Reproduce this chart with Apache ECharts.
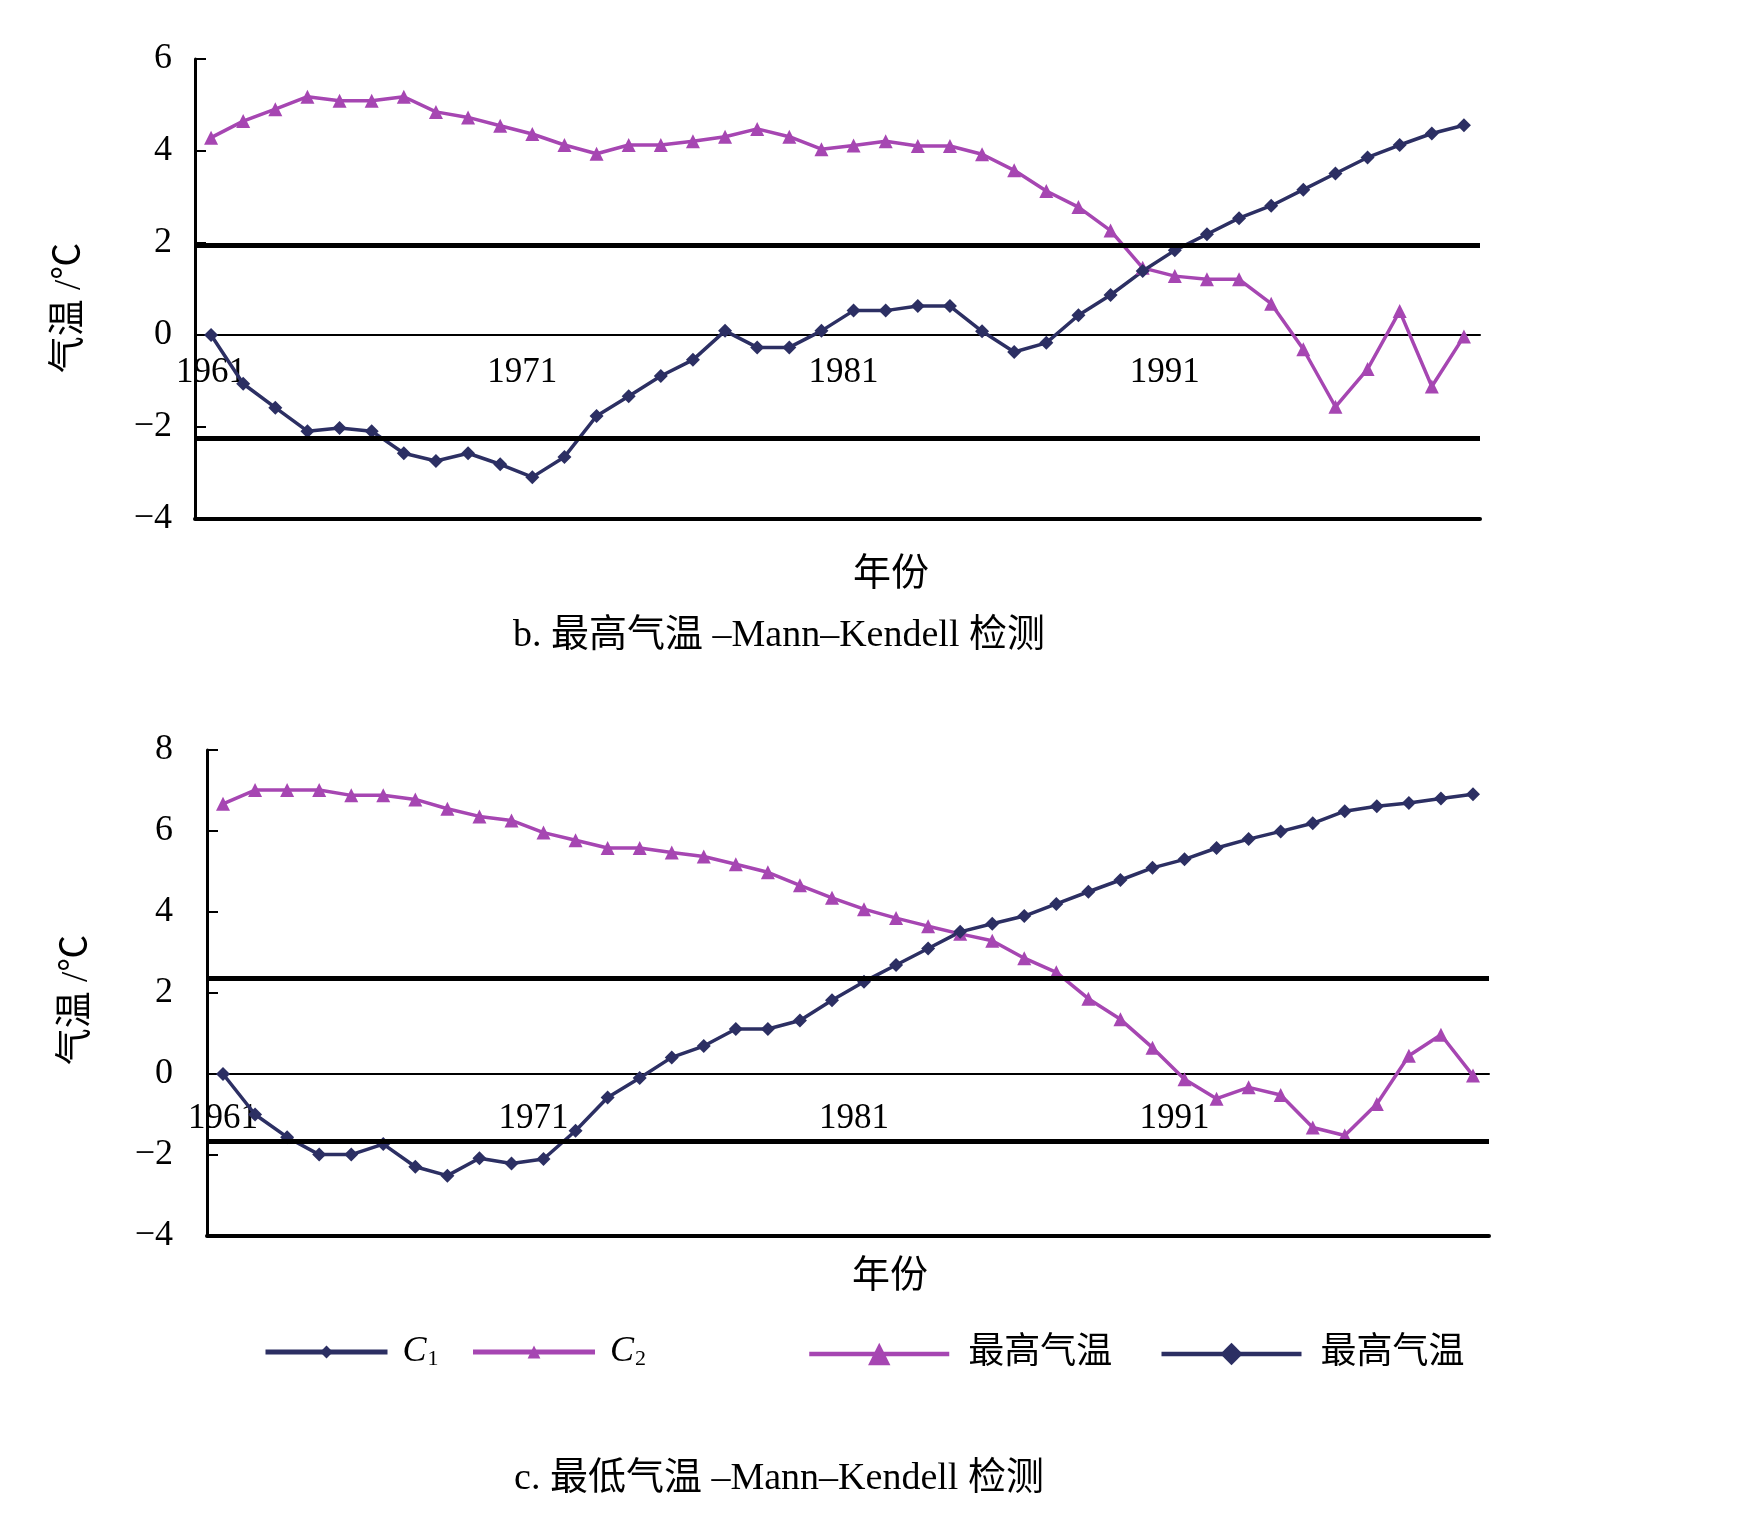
<!DOCTYPE html>
<html>
<head>
<meta charset="utf-8">
<title>Mann-Kendell 检测</title>
<script src="https://cdn.jsdelivr.net/npm/echarts@6/dist/echarts.min.js"></script>
<style>
  html, body { margin: 0; padding: 0; background: #fff; }
  #chart { width: 1752px; height: 1527px; }
</style>
</head>
<body>
<div id="chart"></div>
<script>
// 年份
const years = ['1961', '1962', '1963', '1964', '1965', '1966', '1967', '1968', '1969', '1970',
  '1971', '1972', '1973', '1974', '1975', '1976', '1977', '1978', '1979', '1980',
  '1981', '1982', '1983', '1984', '1985', '1986', '1987', '1988', '1989', '1990',
  '1991', '1992', '1993', '1994', '1995', '1996', '1997', '1998', '1999', '2000']

// b. 最高气温
const maxC1 = [0, -1.06, -1.58, -2.09, -2.02, -2.09, -2.57, -2.74, -2.57, -2.81,
  -3.09, -2.65, -1.76, -1.33, -0.89, -0.54, 0.09, -0.27, -0.27, 0.09,
  0.53, 0.53, 0.63, 0.63, 0.08, -0.37, -0.17, 0.43, 0.87, 1.39,
  1.84, 2.19, 2.54, 2.81, 3.16, 3.51, 3.86, 4.13, 4.38, 4.56]
const maxC2 = [4.29, 4.65, 4.91, 5.18, 5.09, 5.09, 5.18, 4.85, 4.73, 4.55,
  4.37, 4.13, 3.94, 4.13, 4.13, 4.21, 4.31, 4.48, 4.31, 4.04,
  4.12, 4.21, 4.11, 4.11, 3.93, 3.58, 3.13, 2.78, 2.27, 1.46,
  1.28, 1.21, 1.21, 0.68, -0.31, -1.56, -0.74, 0.52, -1.12, -0.03]
const maxLevels = [1.96, -2.25]

// c. 最低气温
const minC1 = [0, -1.00, -1.56, -1.99, -1.99, -1.73, -2.29, -2.51, -2.08, -2.21,
  -2.10, -1.40, -0.58, -0.10, 0.41, 0.69, 1.11, 1.11, 1.32, 1.82,
  2.28, 2.69, 3.10, 3.51, 3.71, 3.90, 4.20, 4.50, 4.79, 5.09,
  5.30, 5.58, 5.80, 5.99, 6.19, 6.49, 6.61, 6.69, 6.80, 6.91]
const minC2 = [6.67, 7.01, 7.01, 7.01, 6.88, 6.88, 6.78, 6.55, 6.36, 6.26,
  5.96, 5.77, 5.58, 5.58, 5.47, 5.37, 5.18, 4.98, 4.66, 4.35,
  4.07, 3.85, 3.65, 3.46, 3.29, 2.86, 2.51, 1.86, 1.35, 0.65,
  -0.13, -0.61, -0.33, -0.52, -1.32, -1.52, -0.74, 0.45, 0.97, -0.04]
const minLevels = [2.37, -1.67]

const navy = '#2c2f63'
const purple = '#a646b2'
const serif = '"Liberation Serif", "Noto Sans CJK SC", serif'

// 两个图：主网格（数据 + 底部粗线）和零线网格（下边缘落在 y=0 处，放刻度和年份）
const top1 = 59, h1 = 460, top2 = 750, h2 = 486

function baseXAxis (gridIndex) {
  return {
    gridIndex: gridIndex,
    type: 'category',
    data: years,
    boundaryGap: true,
    axisLine: { onZero: false, lineStyle: { color: '#000', width: 4 } },
    axisTick: { show: false },
    axisLabel: { show: false },
    splitLine: { show: false }
  }
}

function zeroXAxis (gridIndex, margin) {
  return {
    gridIndex: gridIndex,
    type: 'category',
    data: years,
    boundaryGap: true,
    position: 'bottom',
    axisLine: { onZero: false, lineStyle: { color: '#000', width: 2 } },
    axisTick: { inside: true, interval: 4, length: 9, lineStyle: { color: '#000', width: 1.5 } },
    axisLabel: {
      interval: 9,
      margin: margin,
      color: '#000',
      fontSize: 35,
      fontFamily: serif,
      // 除 1961 外标签略向左偏
      formatter: function (v, i) { return i === 0 ? v : '{s|' + v + '}' },
      rich: { s: { fontSize: 35, fontFamily: serif, color: '#000', padding: [0, 20, 0, 0] } }
    },
    splitLine: { show: false }
  }
}

function yAxis (gridIndex, max, margin, nameGap, shift) {
  return {
    gridIndex: gridIndex,
    type: 'value',
    min: -4,
    max: max,
    interval: 2,
    axisLine: { show: true, lineStyle: { color: '#000', width: 3 } },
    axisTick: { show: true, inside: true, length: 11, lineStyle: { color: '#000', width: 2 } },
    splitLine: { show: false },
    axisLabel: {
      margin: margin,
      color: '#000',
      fontSize: 36,
      fontFamily: serif,
      formatter: function (v) { return String(v).replace('-', '\u2212') }
    },
    name: '气温 /℃',
    nameLocation: 'middle',
    nameRotate: 90,
    nameGap: nameGap,
    nameTextStyle: { color: '#000', fontSize: 37, fontFamily: serif, padding: [0, shift, 0, 0] }
  }
}

function hiddenYAxis (gridIndex) {
  return { gridIndex: gridIndex, type: 'value', show: false, min: 0, max: 1 }
}

function levelLine (levels) {
  return {
    silent: true,
    symbol: 'none',
    label: { show: false },
    lineStyle: { color: '#000', width: 5, type: 'solid' },
    data: levels.map(function (v) { return { yAxis: v } })
  }
}

function lineSeries (name, data, xi, yi, color, symbol, levels) {
  const s = {
    name: name,
    type: 'line',
    xAxisIndex: xi,
    yAxisIndex: yi,
    data: data,
    symbol: symbol,
    symbolSize: 14,
    lineStyle: { color: color, width: 3.5 },
    itemStyle: { color: color }
  }
  if (levels) s.markLine = levelLine(levels)
  return s
}

function caption (text, x, y) {
  return {
    type: 'text',
    x: x,
    y: y,
    style: { text: text, fill: '#000', font: '38px ' + serif, textAlign: 'center', textVerticalAlign: 'middle' }
  }
}

const myChart = echarts.init(document.getElementById('chart'))
const option = {
  backgroundColor: '#fff',
  animation: false,
  grid: [
    { left: 195, top: top1, width: 1285, height: h1, outerBoundsMode: 'none' },
    { left: 207, top: top2, width: 1282, height: h2, outerBoundsMode: 'none' },
    // 零线网格：高度按 y 轴 0 的位置算
    { left: 195, top: top1, width: 1285, height: h1 * 6 / 10, outerBoundsMode: 'none' },
    { left: 207, top: top2, width: 1282, height: h2 * 8 / 12, outerBoundsMode: 'none' }
  ],
  xAxis: [baseXAxis(0), baseXAxis(1), zeroXAxis(2, 20), zeroXAxis(3, 27)],
  yAxis: [yAxis(0, 6, 23, 106, 38), yAxis(1, 8, 34, 111, 14), hiddenYAxis(2), hiddenYAxis(3)],
  legend: [{
    selectedMode: false,
    left: 263,
    top: 1334,
    padding: 0,
    itemWidth: 122,
    itemHeight: 16,
    itemGap: 32,
    lineStyle: { width: 5 },
    data: ['C1', 'C2'],
    formatter: function (name) { return '{c|C}{s|' + name.slice(1) + '}' },
    textStyle: {
      padding: [0, 0, 0, 10],
      rich: {
        c: { fontSize: 36, fontStyle: 'italic', fontFamily: serif, color: '#000' },
        s: { fontSize: 22, fontFamily: serif, color: '#000', verticalAlign: 'bottom', padding: [14, 0, 0, 1] }
      }
    }
  }, {
    selectedMode: false,
    left: 807,
    top: 1336,
    padding: 0,
    itemWidth: 140,
    itemHeight: 28,
    itemGap: 47,
    lineStyle: { width: 4.5 },
    data: ['最高气温-C2', '最高气温-C1'],
    formatter: function () { return '最高气温' },
    textStyle: { fontSize: 36, fontFamily: serif, color: '#000', padding: [0, 0, 0, 14] }
  }],
  graphic: [
    caption('年份', 891, 575),
    caption('b. 最高气温 \u2013Mann\u2013Kendell 检测', 779, 636),
    caption('年份', 890, 1277),
    caption('c. 最低气温 \u2013Mann\u2013Kendell 检测', 779, 1479)
  ],
  series: [
    lineSeries('最高气温-C2', maxC2, 0, 0, purple, 'triangle', maxLevels),
    lineSeries('最高气温-C1', maxC1, 0, 0, navy, 'diamond'),
    lineSeries('C2', minC2, 1, 1, purple, 'triangle', minLevels),
    lineSeries('C1', minC1, 1, 1, navy, 'diamond')
  ]
}
myChart.setOption(option)
</script>
</body>
</html>
